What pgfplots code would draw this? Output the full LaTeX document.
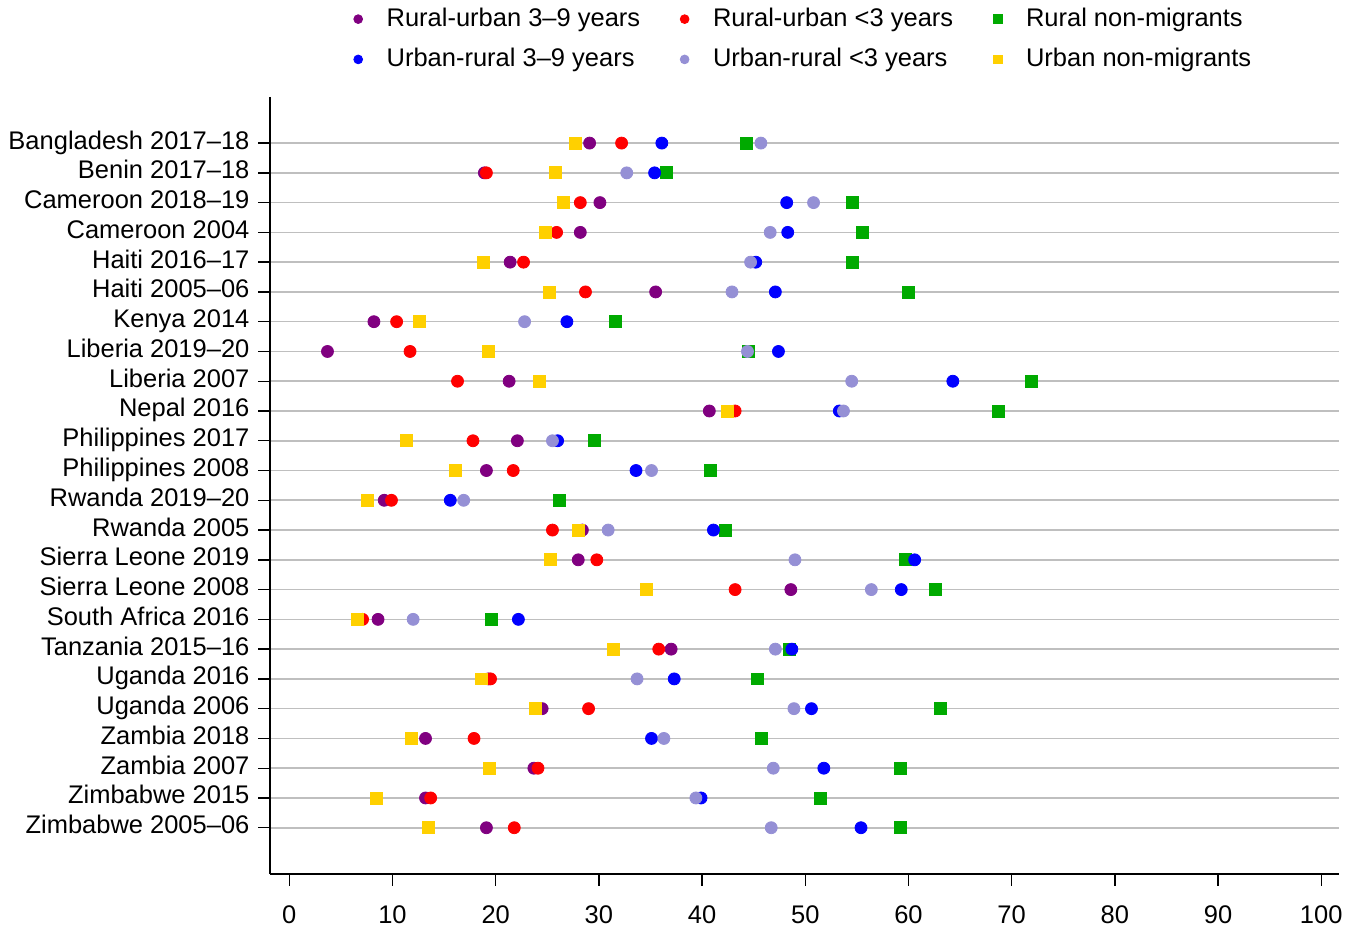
\documentclass[border=0pt]{standalone}
\usepackage{pgfplots}
\pgfplotsset{compat=1.18}
\usepackage{pgfplotstable}
\usepackage{fontspec}
\setmainfont{Liberation Sans}
\definecolor{cpurple}{HTML}{800080}
\definecolor{cred}{HTML}{FF0000}
\definecolor{cgreen}{HTML}{00AA00}
\definecolor{cblue}{HTML}{0000FF}
\definecolor{clav}{HTML}{9590D5}
\definecolor{cyellow}{HTML}{FFD000}
\pgfplotstableread{
idx ru39 ru3 rnm ur39 ur3 unm
1 29.1 32.2 44.3 36.1 45.7 27.7
2 18.9 19.1 36.5 35.4 32.7 25.8
3 30.1 28.2 54.6 48.2 50.8 26.6
4 28.2 25.9 55.5 48.3 46.6 24.8
5 21.4 22.7 54.6 45.2 44.7 18.8
6 35.5 28.7 60.0 47.1 42.9 25.2
7 8.2 10.4 31.6 26.9 22.8 12.6
8 3.7 11.7 44.5 47.4 44.4 19.3
9 21.3 16.3 71.9 64.3 54.5 24.2
10 40.7 43.2 68.7 53.3 53.7 42.5
11 22.1 17.8 29.6 26.0 25.5 11.3
12 19.1 21.7 40.8 33.6 35.1 16.1
13 9.2 9.9 26.2 15.6 16.9 7.6
14 28.4 25.5 42.3 41.1 30.9 28.0
15 28.0 29.8 59.7 60.6 49.0 25.3
16 48.6 43.2 62.6 59.3 56.4 34.6
17 8.6 7.1 19.6 22.2 12.0 6.6
18 37.0 35.8 48.5 48.7 47.1 31.4
19 19.3 19.5 45.4 37.3 33.7 18.6
20 24.5 29.0 63.1 50.6 48.9 23.8
21 13.2 17.9 45.7 35.1 36.3 11.8
22 23.7 24.1 59.2 51.8 46.9 19.4
23 13.2 13.7 51.5 39.9 39.4 8.4
24 19.1 21.8 59.2 55.4 46.7 13.5
}\datatab
\begin{document}
\fontsize{12.75pt}{15pt}\selectfont
\begin{tikzpicture}
\begin{axis}[
  scale only axis,
  width=534.5pt, height=388.5pt,
  font=\fontsize{12.75pt}{15pt}\selectfont,
  xmin=-1.84, xmax=101.7,
  ymin=-0.55, ymax=25.54,
  y dir=reverse,
  axis lines*=left,
  axis line style={line width=1pt, black},
  xtick={0,10,...,100},
  ytick={1,...,24},
  yticklabels={Bangladesh 2017--18, Benin 2017--18, Cameroon 2018--19, Cameroon 2004, Haiti 2016--17, Haiti 2005--06, Kenya 2014, Liberia 2019--20, Liberia 2007, Nepal 2016, Philippines 2017, Philippines 2008, Rwanda 2019--20, Rwanda 2005, Sierra Leone 2019, Sierra Leone 2008, South Africa 2016, Tanzania 2015--16, Uganda 2016, Uganda 2006, Zambia 2018, Zambia 2007, Zimbabwe 2015, Zimbabwe 2005--06},
  typeset ticklabels with strut,
  tick align=outside,
  tick style={black, line width=0.7pt},
  major tick length=6pt,
  xticklabel style={yshift=-4pt},
  /pgf/number format/assume math mode=true,
  ymajorgrids,
  grid style={line width=0.8pt, color=black!25},
  legend columns=3,
  legend style={at={(0.5,1)}, anchor=south, yshift=9pt, draw=none, fill=none,
    font=\fontsize{12.75pt}{15pt}\selectfont,
    /tikz/every even column/.append style={column sep=18pt},
    row sep=5pt},
  legend image code/.code={\path[draw=none] (0cm,0cm) -- (0.46cm,0cm); \draw[#1] plot coordinates {(0.03cm,0cm)};},
  legend cell align=left,
]
\addlegendimage{only marks, mark=*, mark size=2.2pt, color=cpurple}
\addlegendentry{Rural-urban 3--9 years}
\addlegendimage{only marks, mark=*, mark size=2.2pt, color=cred}
\addlegendentry{Rural-urban <3 years}
\addlegendimage{only marks, mark=square*, mark size=2.2pt, color=cgreen}
\addlegendentry{Rural non-migrants}
\addlegendimage{only marks, mark=*, mark size=2.2pt, color=cblue}
\addlegendentry{Urban-rural 3--9 years}
\addlegendimage{only marks, mark=*, mark size=2.2pt, color=clav}
\addlegendentry{Urban-rural <3 years}
\addlegendimage{only marks, mark=square*, mark size=2.2pt, color=cyellow}
\addlegendentry{Urban non-migrants}
\addplot[forget plot, only marks, mark=square*, mark size=3pt, color=cgreen] table[x=rnm, y=idx] {\datatab};
\addplot[forget plot, only marks, mark=*, mark size=3pt, color=cpurple] table[x=ru39, y=idx] {\datatab};
\addplot[forget plot, only marks, mark=*, mark size=3pt, color=cred] table[x=ru3, y=idx] {\datatab};
\addplot[forget plot, only marks, mark=*, mark size=3pt, color=cblue] table[x=ur39, y=idx] {\datatab};
\addplot[forget plot, only marks, mark=*, mark size=3pt, color=clav] table[x=ur3, y=idx] {\datatab};
\addplot[forget plot, only marks, mark=square*, mark size=3pt, color=cyellow] table[x=unm, y=idx] {\datatab};
\end{axis}
\end{tikzpicture}
\end{document}
